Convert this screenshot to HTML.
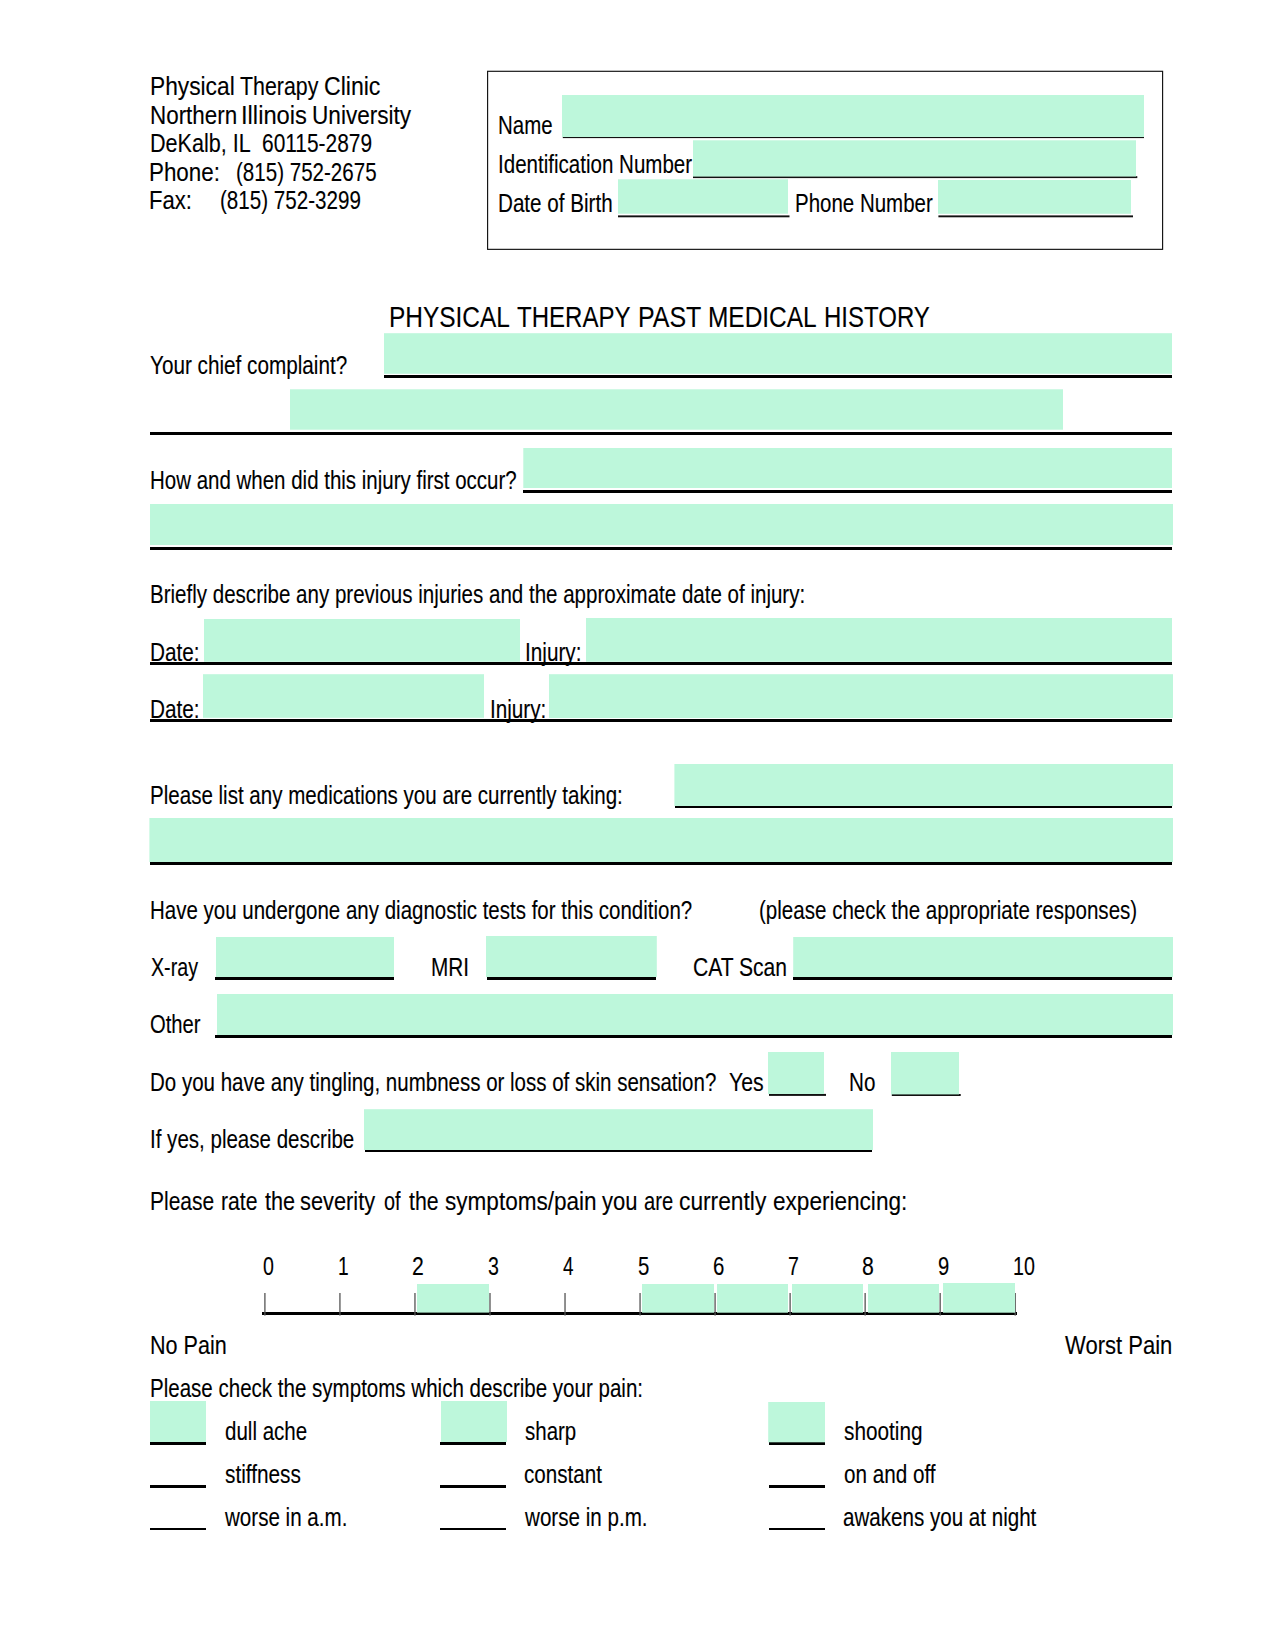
<!DOCTYPE html>
<html lang="en"><head><meta charset="utf-8"><title>Physical Therapy Past Medical History</title>
<style>
html,body{margin:0;padding:0;background:#fff}
body{width:1275px;height:1649px;position:relative;overflow:hidden;font-family:"Liberation Sans",sans-serif;color:#000}
.t{position:absolute;white-space:pre;line-height:1;transform-origin:0 0;font-size:25px;-webkit-text-stroke:0.12px #000}
.k{position:absolute;background:#000}
.g{position:absolute;background:#bdf7db}
svg{position:absolute;left:0;top:0}
#hb{position:absolute;left:487px;top:71px;width:674px;height:177px;border:1px solid #222}
</style></head><body>
<span class="t" style="left:149.88px;top:74.00px;transform:scaleX(0.9098)">Physical</span>
<span class="t" style="left:239.72px;top:74.00px;transform:scaleX(0.8540)">Therapy</span>
<span class="t" style="left:324.03px;top:74.00px;transform:scaleX(0.9225)">Clinic</span>
<span class="t" style="left:149.87px;top:103.00px;transform:scaleX(0.8960)">Northern</span>
<span class="t" style="left:240.88px;top:103.00px;transform:scaleX(0.9493)">Illinois</span>
<span class="t" style="left:312.30px;top:103.00px;transform:scaleX(0.9036)">University</span>
<span class="t" style="left:149.74px;top:131.00px;transform:scaleX(0.8636)">DeKalb, IL</span>
<span class="t" style="left:261.62px;top:131.00px;transform:scaleX(0.8362)">60115-2879</span>
<span class="t" style="left:149.48px;top:160.00px;transform:scaleX(0.8951)">Phone:</span>
<span class="t" style="left:236.10px;top:160.00px;transform:scaleX(0.8222)">(815) 752-2675</span>
<span class="t" style="left:149.05px;top:188.00px;transform:scaleX(0.8842)">Fax:</span>
<span class="t" style="left:220.45px;top:188.00px;transform:scaleX(0.8238)">(815) 752-3299</span>
<span class="t" style="left:498.13px;top:113.00px;transform:scaleX(0.8184)">Name</span>
<span class="t" style="left:498.36px;top:152.00px;transform:scaleX(0.8217)">Identification Number</span>
<span class="t" style="left:498.09px;top:191.00px;transform:scaleX(0.8251)">Date of Birth</span>
<span class="t" style="left:794.95px;top:191.00px;transform:scaleX(0.8194)">Phone Number</span>
<span class="t" style="left:388.53px;top:303.00px;transform:scaleX(0.8385);font-size:29.17px">PHYSICAL</span>
<span class="t" style="left:517.05px;top:303.00px;transform:scaleX(0.8246);font-size:29.17px">THERAPY</span>
<span class="t" style="left:637.73px;top:303.00px;transform:scaleX(0.8560);font-size:29.17px">PAST</span>
<span class="t" style="left:708.18px;top:303.00px;transform:scaleX(0.8384);font-size:29.17px">MEDICAL</span>
<span class="t" style="left:823.96px;top:303.00px;transform:scaleX(0.8234);font-size:29.17px">HISTORY</span>
<span class="t" style="left:149.92px;top:353.00px;transform:scaleX(0.8282)">Your chief complaint?</span>
<span class="t" style="left:149.99px;top:468.00px;transform:scaleX(0.8194)">How and when did this injury first occur?</span>
<span class="t" style="left:150.25px;top:582.00px;transform:scaleX(0.8214)">Briefly describe any previous injuries and the approximate date of injury:</span>
<span class="t" style="left:149.94px;top:640.00px;transform:scaleX(0.8296)">Date:</span>
<span class="t" style="left:524.84px;top:640.00px;transform:scaleX(0.8295)">Injury:</span>
<span class="t" style="left:149.94px;top:697.00px;transform:scaleX(0.8296)">Date:</span>
<span class="t" style="left:489.57px;top:697.00px;transform:scaleX(0.8280)">Injury:</span>
<span class="t" style="left:149.96px;top:783.00px;transform:scaleX(0.8219)">Please list any medications you are currently taking:</span>
<span class="t" style="left:149.96px;top:898.00px;transform:scaleX(0.8197)">Have you undergone any diagnostic tests for this condition?</span>
<span class="t" style="left:759.08px;top:898.00px;transform:scaleX(0.8222)">(please check the appropriate responses)</span>
<span class="t" style="left:151.00px;top:955.00px;transform:scaleX(0.7870)">X-ray</span>
<span class="t" style="left:430.74px;top:955.00px;transform:scaleX(0.8310)">MRI</span>
<span class="t" style="left:693.17px;top:955.00px;transform:scaleX(0.8426)">CAT Scan</span>
<span class="t" style="left:150.19px;top:1012.00px;transform:scaleX(0.8088)">Other</span>
<span class="t" style="left:149.96px;top:1070.00px;transform:scaleX(0.8199)">Do you have any tingling, numbness or loss of skin sensation?</span>
<span class="t" style="left:728.62px;top:1070.00px;transform:scaleX(0.8515)">Yes</span>
<span class="t" style="left:848.87px;top:1070.00px;transform:scaleX(0.8260)">No</span>
<span class="t" style="left:150.00px;top:1127.00px;transform:scaleX(0.8213)">If yes, please describe</span>
<span class="t" style="left:150.12px;top:1189.00px;transform:scaleX(0.8398)">Please</span>
<span class="t" style="left:221.45px;top:1189.00px;transform:scaleX(0.8476)">rate</span>
<span class="t" style="left:265.00px;top:1189.00px;transform:scaleX(0.8656)">the</span>
<span class="t" style="left:299.95px;top:1189.00px;transform:scaleX(0.8717)">severity</span>
<span class="t" style="left:383.91px;top:1189.00px;transform:scaleX(0.7938)">of</span>
<span class="t" style="left:409.10px;top:1189.00px;transform:scaleX(0.8508)">the</span>
<span class="t" style="left:444.79px;top:1189.00px;transform:scaleX(0.9021)">symptoms/pain</span>
<span class="t" style="left:601.90px;top:1189.00px;transform:scaleX(0.8806)">you</span>
<span class="t" style="left:643.79px;top:1189.00px;transform:scaleX(0.8063)">are</span>
<span class="t" style="left:679.10px;top:1189.00px;transform:scaleX(0.9102)">currently</span>
<span class="t" style="left:772.85px;top:1189.00px;transform:scaleX(0.9029)">experiencing:</span>
<span class="t" style="left:263.30px;top:1254.00px;transform:scaleX(0.7846)">0</span>
<span class="t" style="left:337.93px;top:1254.00px;transform:scaleX(0.7667)">1</span>
<span class="t" style="left:411.85px;top:1254.00px;transform:scaleX(0.8500)">2</span>
<span class="t" style="left:488.20px;top:1254.00px;transform:scaleX(0.7846)">3</span>
<span class="t" style="left:562.94px;top:1254.00px;transform:scaleX(0.7571)">4</span>
<span class="t" style="left:637.62px;top:1254.00px;transform:scaleX(0.8167)">5</span>
<span class="t" style="left:712.74px;top:1254.00px;transform:scaleX(0.8167)">6</span>
<span class="t" style="left:787.82px;top:1254.00px;transform:scaleX(0.7833)">7</span>
<span class="t" style="left:862.27px;top:1254.00px;transform:scaleX(0.8500)">8</span>
<span class="t" style="left:937.89px;top:1254.00px;transform:scaleX(0.8083)">9</span>
<span class="t" style="left:1013.31px;top:1254.00px;transform:scaleX(0.7875)">10</span>
<span class="t" style="left:149.88px;top:1333.00px;transform:scaleX(0.8621)">No Pain</span>
<span class="t" style="left:1065.18px;top:1333.00px;transform:scaleX(0.8809)">Worst Pain</span>
<span class="t" style="left:149.96px;top:1376.00px;transform:scaleX(0.8213)">Please check the symptoms which describe your pain:</span>
<span class="t" style="left:224.88px;top:1419.00px;transform:scaleX(0.8216)">dull ache</span>
<span class="t" style="left:525.40px;top:1419.00px;transform:scaleX(0.8194)">sharp</span>
<span class="t" style="left:843.84px;top:1419.00px;transform:scaleX(0.8307)">shooting</span>
<span class="t" style="left:225.20px;top:1462.00px;transform:scaleX(0.8317)">stiffness</span>
<span class="t" style="left:524.30px;top:1462.00px;transform:scaleX(0.8239)">constant</span>
<span class="t" style="left:843.76px;top:1462.00px;transform:scaleX(0.8268)">on and off</span>
<span class="t" style="left:225.19px;top:1505.00px;transform:scaleX(0.8233)">worse in a.m.</span>
<span class="t" style="left:525.44px;top:1505.00px;transform:scaleX(0.8242)">worse in p.m.</span>
<span class="t" style="left:842.99px;top:1505.00px;transform:scaleX(0.8231)">awakens you at night</span>
<div class="k" style="left:384px;top:375px;width:788.0px;height:3px"></div>
<div class="k" style="left:150px;top:432px;width:1022.0px;height:3px"></div>
<div class="k" style="left:523.3px;top:490px;width:648.7px;height:3px"></div>
<div class="k" style="left:150px;top:547px;width:1022.0px;height:3px"></div>
<div class="k" style="left:150px;top:662px;width:1022.0px;height:3px"></div>
<div class="k" style="left:150px;top:719px;width:1022.0px;height:3px"></div>
<div class="k" style="left:675.4px;top:805px;width:496.6px;height:3px"></div>
<div class="k" style="left:150px;top:862px;width:1022.0px;height:3px"></div>
<div class="k" style="left:215px;top:977px;width:179.0px;height:3px"></div>
<div class="k" style="left:487px;top:977px;width:169.0px;height:3px"></div>
<div class="k" style="left:793.2px;top:977px;width:378.8px;height:3px"></div>
<div class="k" style="left:215px;top:1035px;width:957.0px;height:3px"></div>
<div class="k" style="left:365px;top:1149px;width:507.0px;height:3px"></div>
<div class="k" style="left:262px;top:1312px;width:754.5px;height:3px"></div>
<div class="k" style="left:150px;top:1442px;width:56.0px;height:3px"></div>
<div class="k" style="left:440px;top:1442px;width:66.0px;height:3px"></div>
<div class="k" style="left:769px;top:1442px;width:56.0px;height:3px"></div>
<div class="k" style="left:150px;top:1485px;width:56.0px;height:3px"></div>
<div class="k" style="left:440px;top:1485px;width:66.0px;height:3px"></div>
<div class="k" style="left:769px;top:1485px;width:56.0px;height:3px"></div>
<div class="k" style="left:150px;top:1528px;width:56.0px;height:2px"></div>
<div class="k" style="left:440px;top:1528px;width:66.0px;height:2px"></div>
<div class="k" style="left:769px;top:1528px;width:56.0px;height:2px"></div>
<svg width="1275" height="1649" viewBox="0 0 1275 1649">
<rect x="487.6" y="71.3" width="675" height="178.05" fill="none" stroke="#111" stroke-width="1.15"/>
<rect x="562.8" y="136.2" width="581.2" height="1.9" fill="#111"/>
<rect x="693" y="176.2" width="444.3" height="1.9" fill="#111"/>
<rect x="618" y="215.4" width="171.5" height="1.9" fill="#111"/>
<rect x="938.4" y="215.4" width="194.6" height="1.9" fill="#111"/>
<rect x="769" y="1093.9" width="57.0" height="2.0" fill="#111"/>
<rect x="891.8" y="1094" width="68.9" height="2.0" fill="#111"/>
<rect x="264.25" y="1293" width="1.3" height="22.6" fill="#555"/>
<rect x="339.28" y="1293" width="1.3" height="22.6" fill="#555"/>
<rect x="414.31" y="1293" width="1.3" height="22.6" fill="#555"/>
<rect x="489.34" y="1293" width="1.3" height="22.6" fill="#555"/>
<rect x="564.37" y="1293" width="1.3" height="22.6" fill="#555"/>
<rect x="639.40" y="1293" width="1.3" height="22.6" fill="#555"/>
<rect x="714.43" y="1293" width="1.3" height="22.6" fill="#555"/>
<rect x="789.46" y="1293" width="1.3" height="22.6" fill="#555"/>
<rect x="864.49" y="1293" width="1.3" height="22.6" fill="#555"/>
<rect x="939.52" y="1293" width="1.3" height="22.6" fill="#555"/>
<rect x="1014.55" y="1293" width="1.3" height="22.6" fill="#555"/>
<rect x="562" y="95" width="582.0" height="42.0" fill="#bdf7db"/>
<rect x="693" y="140.3" width="443.0" height="36.2" fill="#bdf7db"/>
<rect x="618" y="179.3" width="170.0" height="34.4" fill="#bdf7db"/>
<rect x="938" y="180" width="193.0" height="33.8" fill="#bdf7db"/>
<rect x="384" y="333.2" width="788.0" height="40.6" fill="#bdf7db"/>
<rect x="290" y="389.3" width="773.0" height="40.4" fill="#bdf7db"/>
<rect x="523.3" y="448" width="648.7" height="40.0" fill="#bdf7db"/>
<rect x="150" y="504" width="1023.0" height="41.0" fill="#bdf7db"/>
<rect x="204" y="619" width="316.0" height="42.8" fill="#bdf7db"/>
<rect x="586" y="618" width="586.0" height="43.8" fill="#bdf7db"/>
<rect x="203" y="674.2" width="281.0" height="43.6" fill="#bdf7db"/>
<rect x="549" y="674.2" width="624.0" height="43.8" fill="#bdf7db"/>
<rect x="674.4" y="764" width="498.6" height="42.0" fill="#bdf7db"/>
<rect x="149.4" y="818" width="1023.6" height="44.0" fill="#bdf7db"/>
<rect x="216" y="937" width="178.0" height="40.0" fill="#bdf7db"/>
<rect x="486" y="936" width="170.8" height="41.0" fill="#bdf7db"/>
<rect x="793.2" y="937" width="379.8" height="40.0" fill="#bdf7db"/>
<rect x="217" y="994" width="956.0" height="41.0" fill="#bdf7db"/>
<rect x="768" y="1052" width="56.0" height="42.0" fill="#bdf7db"/>
<rect x="891" y="1052" width="68.0" height="42.4" fill="#bdf7db"/>
<rect x="364" y="1109.2" width="509.0" height="40.8" fill="#bdf7db"/>
<rect x="417" y="1284" width="72.0" height="28.6" fill="#bdf7db"/>
<rect x="642" y="1284" width="72.0" height="28.7" fill="#bdf7db"/>
<rect x="717" y="1284" width="71.0" height="28.7" fill="#bdf7db"/>
<rect x="792" y="1284" width="71.0" height="28.7" fill="#bdf7db"/>
<rect x="868" y="1284" width="71.0" height="28.7" fill="#bdf7db"/>
<rect x="943" y="1283" width="72.0" height="29.7" fill="#bdf7db"/>
<rect x="150" y="1401" width="56.0" height="41.0" fill="#bdf7db"/>
<rect x="441" y="1401" width="66.0" height="41.0" fill="#bdf7db"/>
<rect x="768.2" y="1402" width="56.8" height="40.3" fill="#bdf7db"/>
</svg>
</body></html>
